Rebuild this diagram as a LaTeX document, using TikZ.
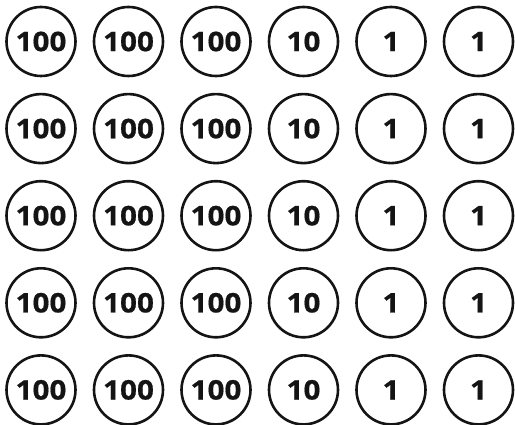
\documentclass[tikz,border=0pt]{standalone}
\usepackage{fontspec}
\setmainfont[FakeStretch=1.1,BoldFeatures={FakeBold=0.6}]{Open Sans}
\usepackage{xcolor}
\definecolor{ink}{RGB}{20,20,20}
\usepackage{tikz}
\usetikzlibrary{positioning}
\tikzset{
  coin/.style={circle, draw=ink, line width=2.6pt, minimum size=69pt,
               inner sep=0pt, font=\fontsize{27}{27}\selectfont\bfseries,
               text=ink},
}

\begin{document}
\begin{tikzpicture}[x=1pt,y=1pt]
\useasboundingbox (0,0) rectangle (515,-425);
\foreach \r in {1,...,5}{
  \foreach \c/\v in {1/100,2/100,3/100,4/10,5/1,6/1}{
    \node[coin] (coin-\r-\c) at ({41+87.5*(\c-1)},{-41.5-87.1*(\r-1)}) {\v};
  }
}
\end{tikzpicture}
\end{document}
